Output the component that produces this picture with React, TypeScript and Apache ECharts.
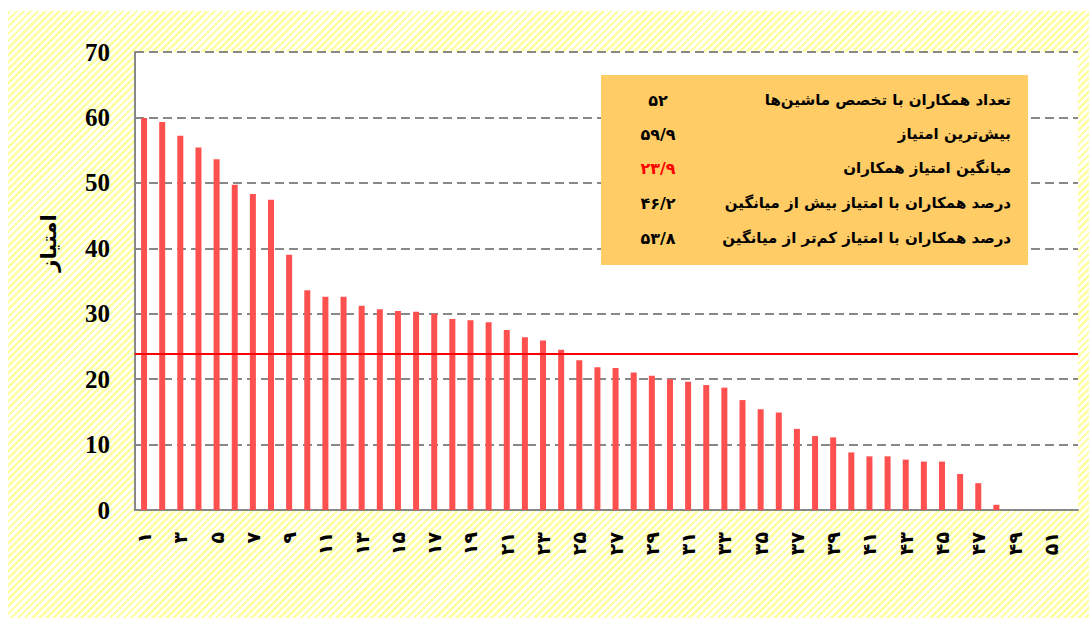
import React, { useEffect, useRef } from "react";
import * as echarts from "echarts";

const CATEGORIES = [
  "۱", "۲", "۳", "۴", "۵", "۶", "۷", "۸", "۹", "۱۰",
  "۱۱", "۱۲", "۱۳", "۱۴", "۱۵", "۱۶", "۱۷", "۱۸", "۱۹", "۲۰",
  "۲۱", "۲۲", "۲۳", "۲۴", "۲۵", "۲۶", "۲۷", "۲۸", "۲۹", "۳۰",
  "۳۱", "۳۲", "۳۳", "۳۴", "۳۵", "۳۶", "۳۷", "۳۸", "۳۹", "۴۰",
  "۴۱", "۴۲", "۴۳", "۴۴", "۴۵", "۴۶", "۴۷", "۴۸", "۴۹", "۵۰",
  "۵۱", "۵۲",
];

const SCORES = [
  59.9, 59.3, 57.2, 55.4, 53.6, 49.7, 48.3, 47.4, 39.0, 33.6,
  32.6, 32.6, 31.2, 30.7, 30.4, 30.3, 30.0, 29.2, 29.0, 28.7,
  27.5, 26.4, 25.9, 24.5, 22.9, 21.8, 21.7, 21.0, 20.5, 20.0,
  19.6, 19.1, 18.7, 16.8, 15.4, 14.9, 12.4, 11.3, 11.1, 8.8,
  8.2, 8.2, 7.7, 7.4, 7.4, 5.5, 4.1, 0.8, 0, 0,
  0, 0,
];

const MEAN_SCORE = 23.9;

const Y_MIN = 0;
const Y_MAX = 70;
const Y_INTERVAL = 10;

const Y_AXIS_NAME = "امتیاز";

const INFO_LABELS = [
  "تعداد همکاران با تخصص ماشین‌ها",
  "بیش‌ترین امتیاز",
  "میانگین امتیاز همکاران",
  "درصد همکاران با امتیاز بیش از میانگین",
  "درصد همکاران با امتیاز کم‌تر از میانگین",
];
const INFO_VALUES = ["۵۲", "۵۹/۹", "۲۳/۹", "۴۶/۲", "۵۳/۸"];
const HIGHLIGHT_ROW = 2;

export default function App() {
  const ref = useRef<HTMLDivElement>(null);

  useEffect(() => {
    if (!ref.current) return;
    const chart = echarts.init(ref.current, null, { renderer: "svg" });

    const persianFont = '"DejaVu Sans", sans-serif';
    const rowY = [89, 123, 157, 192, 227];

    const infoGraphics: any[] = [
      {
        type: "rect",
        shape: { x: 593, y: 64, width: 427, height: 190 },
        style: { fill: "#FFCC66" },
        z: 100,
      },
    ];
    INFO_LABELS.forEach((label, i) => {
      infoGraphics.push({
        type: "text",
        x: 1003,
        y: rowY[i],
        z: 101,
        style: {
          text: label,
          fill: "#000",
          fontFamily: persianFont,
          fontWeight: "bold",
          fontSize: 15,
          align: "right",
          verticalAlign: "middle",
        },
      });
      infoGraphics.push({
        type: "text",
        x: 650,
        y: rowY[i],
        z: 101,
        style: {
          text: INFO_VALUES[i],
          fill: i === HIGHLIGHT_ROW ? "#FF0000" : "#000",
          fontFamily: persianFont,
          fontWeight: "bold",
          fontSize: 16,
          align: "center",
          verticalAlign: "middle",
        },
      });
    });

    chart.setOption({
      animation: false,
      backgroundColor: "transparent",
      grid: {
        left: 127,
        top: 41,
        right: 11,
        bottom: 108,
        show: true,
        backgroundColor: "#FFFFFF",
        borderWidth: 0,
        containLabel: false,
      },
      xAxis: {
        type: "category",
        data: CATEGORIES,
        axisLine: { show: true, lineStyle: { color: "#888888", width: 2 } },
        axisTick: { show: false },
        axisLabel: {
          interval: 1,
          rotate: 90,
          margin: 22,
          color: "#000",
          fontFamily: persianFont,
          fontWeight: "bold",
          fontSize: 19,
        },
        splitLine: { show: false },
      },
      yAxis: {
        type: "value",
        min: Y_MIN,
        max: Y_MAX,
        interval: Y_INTERVAL,
        axisLine: { show: true, lineStyle: { color: "#888888", width: 2 } },
        axisTick: { show: false },
        axisLabel: {
          margin: 25,
          color: "#000",
          fontFamily: '"Liberation Serif", "Times New Roman", serif',
          fontWeight: "bold",
          fontSize: 25,
        },
        splitLine: {
          show: true,
          lineStyle: { color: "#888888", width: 2, type: [9, 5] },
        },
      },
      series: [
        {
          type: "bar",
          data: SCORES,
          barWidth: 6,
          itemStyle: { color: "#FF5050" },
          markLine: {
            silent: true,
            symbol: "none",
            label: { show: false },
            lineStyle: { color: "#FF0000", width: 2, type: "solid" },
            data: [{ yAxis: MEAN_SCORE }],
          },
        },
      ],
      graphic: [
        {
          type: "text",
          x: 41,
          y: 232,
          rotation: Math.PI / 2,
          style: {
            text: Y_AXIS_NAME,
            fill: "#000",
            fontFamily: persianFont,
            fontWeight: "bold",
            fontSize: 21,
            align: "center",
            verticalAlign: "middle",
          },
        },
        ...infoGraphics,
      ],
    });

    return () => {
      chart.dispose();
    };
  }, []);

  return (
    <div
      style={{
        position: "absolute",
        left: 8,
        top: 11,
        width: 1081,
        height: 607,
        background:
          "repeating-linear-gradient(135deg, #FFFFA6 0px, #FFFFA6 2.6px, #FFFFFF 2.6px, #FFFFFF 5px)",
      }}
    >
      <div ref={ref} style={{ width: 1081, height: 607 }} />
    </div>
  );
}
